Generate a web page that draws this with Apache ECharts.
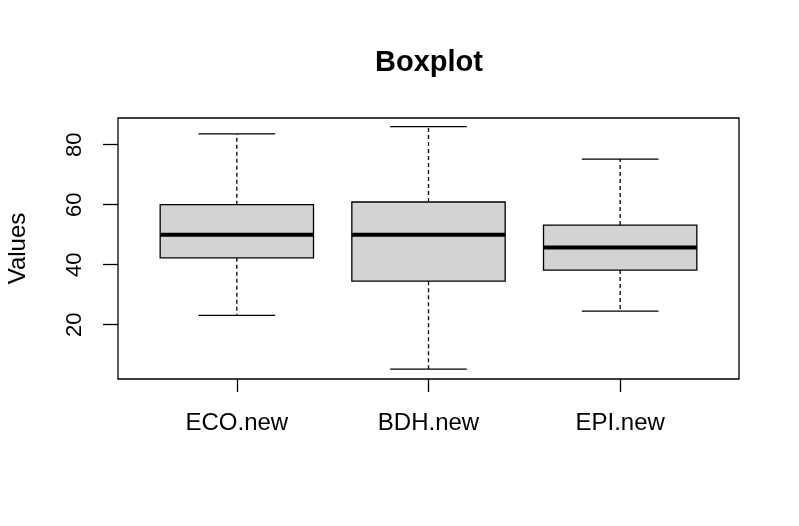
<!DOCTYPE html>
<html>
<head>
<meta charset="utf-8">
<script src="https://cdn.jsdelivr.net/npm/echarts@6/dist/echarts.min.js"></script>
<style>
html,body{margin:0;padding:0;background:#fff;}
#chart{width:799px;height:526px;}
</style>
</head>
<body>
<div id="chart"></div>
<script>
const categories = ['ECO.new', 'BDH.new', 'EPI.new'];
const lowerWhisker = [23.1, 5.2, 24.5];
const q1 = [42.3, 34.5, 38.2];
const median = [50.0, 50.0, 45.7];
const q3 = [60.0, 60.9, 53.2];
const upperWhisker = [83.6, 86.0, 75.2];
const yTicks = [20, 40, 60, 80];
const xTicks = [1, 2, 3];

const boxData = categories.map((c, i) => [i + 1, lowerWhisker[i], q1[i], median[i], q3[i], upperWhisker[i]]);

const chart = echarts.init(document.getElementById('chart'), null, {renderer: 'canvas'});
const FONT = 'Liberation Sans, Arial, sans-serif';

function renderItem(params, api) {
  const x = api.value(0);
  const lw = api.value(1), b1 = api.value(2), md = api.value(3), b3 = api.value(4), uw = api.value(5);
  const halfBox = 0.4, halfCap = 0.2;
  const pL = api.coord([x - halfBox, b3]);
  const pR = api.coord([x + halfBox, b1]);
  const pC = api.coord([x, md]);
  const capL = api.coord([x - halfCap, uw])[0];
  const capR = api.coord([x + halfCap, uw])[0];
  const yUW = api.coord([x, uw])[1];
  const yLW = api.coord([x, lw])[1];
  const yQ3 = pL[1], yQ1 = pR[1];
  const cx = pC[0];
  const black = {stroke: '#000', lineWidth: 1.3, fill: null};
  const dashed = {stroke: '#000', lineWidth: 1.3, lineDash: [4, 3], fill: null};
  return {
    type: 'group',
    children: [
      {type: 'line', shape: {x1: cx, y1: yQ3, x2: cx, y2: yUW}, style: dashed},
      {type: 'line', shape: {x1: cx, y1: yQ1, x2: cx, y2: yLW}, style: dashed},
      {type: 'line', shape: {x1: capL, y1: yUW, x2: capR, y2: yUW}, style: black},
      {type: 'line', shape: {x1: capL, y1: yLW, x2: capR, y2: yLW}, style: black},
      {type: 'rect', shape: {x: pL[0], y: yQ3, width: pR[0] - pL[0], height: yQ1 - yQ3},
        style: {fill: '#D3D3D3', stroke: '#000', lineWidth: 1.3}},
      {type: 'line', shape: {x1: pL[0], y1: pC[1], x2: pR[0], y2: pC[1]},
        style: {stroke: '#000', lineWidth: 4}}
    ]
  };
}

chart.setOption({
  animation: false,
  backgroundColor: '#ffffff',
  title: {
    text: 'Boxplot',
    left: 424,
    textAlign: 'center',
    top: 43,
    textStyle: {fontFamily: FONT, fontSize: 29, fontWeight: 'bold', color: '#000'}
  },
  grid: {
    left: 118, top: 118, width: 621, height: 261,
    outerBoundsMode: 'none',
    containLabel: false,
    show: true, borderColor: '#000', borderWidth: 1.3, backgroundColor: 'transparent'
  },
  xAxis: {
    type: 'value',
    min: 0.38, max: 3.62,
    axisLine: {show: false},
    splitLine: {show: false},
    axisTick: {show: true, length: 13, customValues: xTicks, lineStyle: {color: '#000', width: 1.3}},
    axisLabel: {
      customValues: xTicks,
      formatter: v => categories[Math.round(v) - 1],
      margin: 32, color: '#000', fontFamily: FONT, fontSize: 24
    }
  },
  yAxis: {
    type: 'value',
    min: 1.9, max: 88.9,
    name: 'Values',
    nameLocation: 'middle',
    nameGap: 88,
    nameTextStyle: {fontFamily: FONT, fontSize: 24, color: '#000'},
    axisLine: {show: false},
    splitLine: {show: false},
    axisTick: {show: true, length: 15, customValues: yTicks, lineStyle: {color: '#000', width: 1.3}},
    axisLabel: {
      customValues: yTicks,
      rotate: 90,
      margin: 32, color: '#000', fontFamily: FONT, fontSize: 22
    }
  },
  series: [{
    type: 'custom',
    renderItem: renderItem,
    encode: {x: 0, y: [1, 2, 3, 4, 5]},
    data: boxData,
    clip: false
  }]
});
</script>
</body>
</html>
